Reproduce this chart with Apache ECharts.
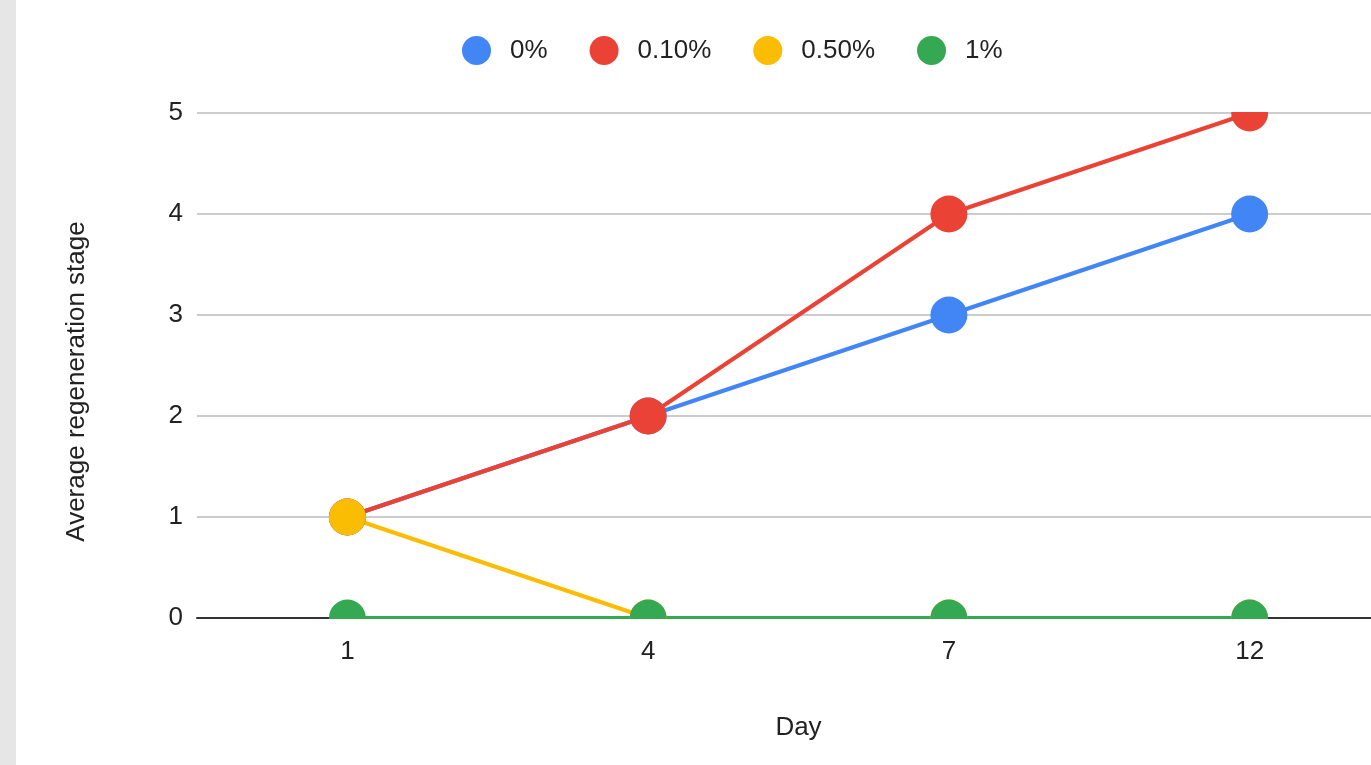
<!DOCTYPE html>
<html>
<head>
<meta charset="utf-8">
<script src="https://cdn.jsdelivr.net/npm/echarts@6/dist/echarts.min.js"></script>
<style>
    html, body { margin: 0; padding: 0; width: 1371px; height: 765px; overflow: hidden; background: #fff; }
    #side { position: absolute; left: 0; top: 0; width: 16px; height: 765px; background: #e6e6e6; }
    #chart { position: absolute; left: 16px; top: 0; width: 1384px; height: 765px; }
</style>
</head>
<body>
<div id="side"></div>
<div id="chart"></div>
<script>
const days = ['1', '4', '7', '12']
const seriesNames = ['0%', '0.10%', '0.50%', '1%']
const conc0 = [1, 2, 3, 4]
const conc010 = [1, 2, 4, 5]
const conc050 = [1, 0, 0, 0]
const conc1 = [0, 0, 0, 0]
const colors = ['#4285f4', '#ea4335', '#fbbc04', '#34a853']
const yTicks = [0, 5, 1]

const FONT = 'Arial, "Liberation Sans", sans-serif'
const FONT_SIZE = 26
const GRID_LEFT = 181

function lineSeries(name, data, color) {
    return {
        name: name,
        type: 'line',
        data: data,
        symbol: 'circle',
        symbolSize: 37,
        showSymbol: true,
        clip: false,
        lineStyle: { color: color, width: 4 },
        itemStyle: { color: color },
        emphasis: { disabled: true },
        animation: false
    }
}

let chart = echarts.init(document.getElementById('chart'))

let option = {
    animation: false,
    color: colors,
    textStyle: { fontFamily: FONT },
    legend: {
        data: seriesNames.map(n => ({ name: n, icon: 'circle' })),
        left: 441,
        top: 31,
        itemWidth: 29,
        itemHeight: 29,
        itemGap: 42,
        textStyle: { fontSize: FONT_SIZE, color: '#222', padding: [0, 0, 0, 14], fontFamily: FONT }
    },
    grid: { left: GRID_LEFT, right: 0, top: 113, bottom: 147 },
    xAxis: {
        type: 'category',
        data: days,
        boundaryGap: true,
        name: 'Day',
        nameLocation: 'middle',
        nameGap: 97,
        nameTextStyle: { fontSize: FONT_SIZE, color: '#222', fontFamily: FONT },
        axisLine: { lineStyle: { color: '#333', width: 2 } },
        axisTick: { show: false },
        axisLabel: { fontSize: FONT_SIZE, color: '#222', margin: 21, fontFamily: FONT },
        splitLine: { show: false }
    },
    yAxis: {
        type: 'value',
        min: yTicks[0],
        max: yTicks[1],
        interval: yTicks[2],
        name: 'Average regeneration stage',
        nameLocation: 'middle',
        nameGap: 107,
        nameTextStyle: { fontSize: FONT_SIZE, color: '#222', fontFamily: FONT, padding: [0, 32, 0, 0] },
        axisLine: { show: false },
        axisTick: { show: false },
        axisLabel: { fontSize: FONT_SIZE, color: '#222', margin: 14, fontFamily: FONT },
        splitLine: { lineStyle: { color: '#cccccc', width: 2 } }
    },
    series: [
        lineSeries(seriesNames[0], conc0, colors[0]),
        lineSeries(seriesNames[1], conc010, colors[1]),
        lineSeries(seriesNames[2], conc050, colors[2]),
        lineSeries(seriesNames[3], conc1, colors[3])
    ]
}

chart.setOption(option)

// markers are cut off by the plot area edges, mask them with white strips
let topY = chart.convertToPixel({ gridIndex: 0 }, [0, yTicks[1]])[1]
let baseY = chart.convertToPixel({ gridIndex: 0 }, [0, yTicks[0]])[1]
chart.setOption({
    graphic: [
        {
            type: 'rect',
            shape: { x: GRID_LEFT + 1, y: topY - 24, width: 1300, height: 23 },
            style: { fill: '#fff' },
            z: 100
        },
        {
            type: 'rect',
            shape: { x: GRID_LEFT + 1, y: baseY + 1, width: 1300, height: 19 },
            style: { fill: '#fff' },
            z: 100
        }
    ]
})
</script>
</body>
</html>
